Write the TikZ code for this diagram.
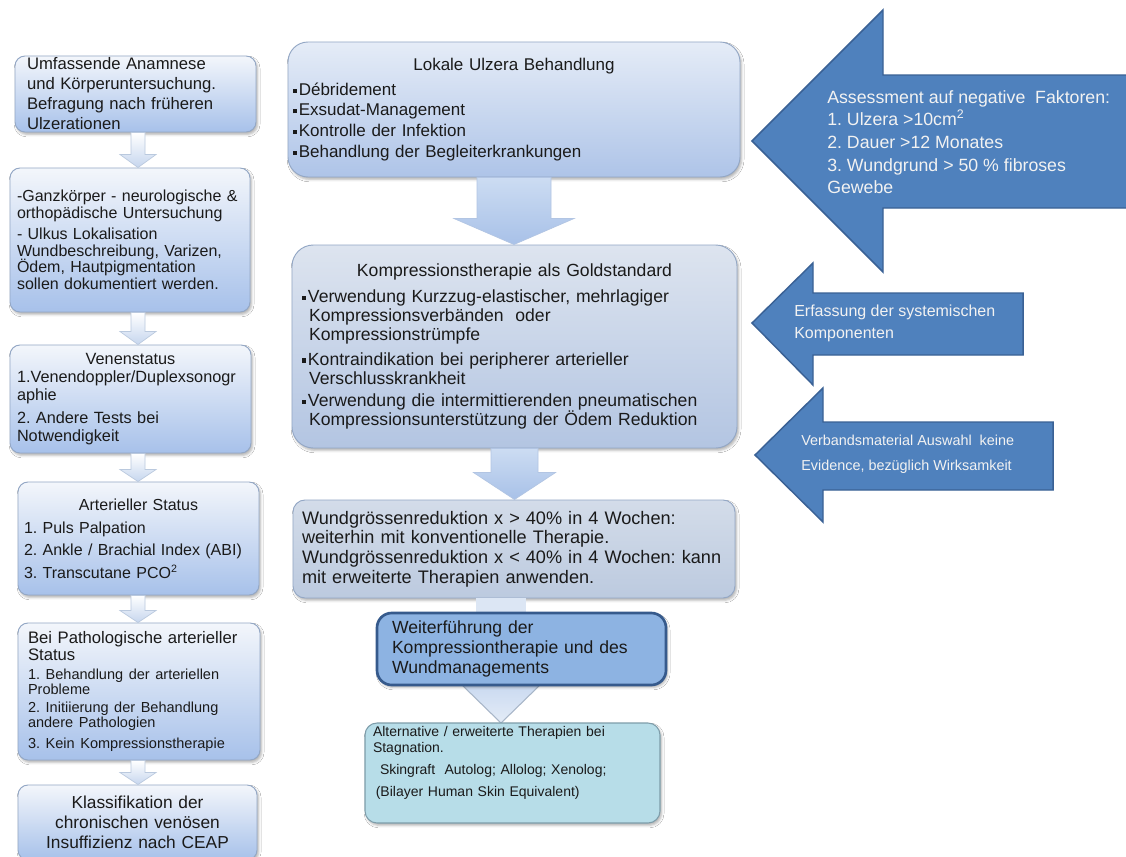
\documentclass[tikz,border=0pt]{standalone}
\usepackage{fontspec}
\setmainfont{Liberation Sans}
\usetikzlibrary{calc,shadows.blur}
\setlength{\parindent}{0pt}
\frenchspacing
\definecolor{txt}{HTML}{1A1A1A}
\definecolor{lboxtop}{HTML}{F3F6FB}
\definecolor{lboxbot}{HTML}{A7C1EA}
\definecolor{lboxline}{HTML}{93A7C5}
\definecolor{mtop}{HTML}{E5ECF7}
\definecolor{mbot}{HTML}{AEC4E8}
\definecolor{gtop}{HTML}{DDE4EF}
\definecolor{gbot}{HTML}{B3C5E2}
\definecolor{gthreetop}{HTML}{D3DCE9}
\definecolor{gthreebot}{HTML}{BCCADF}
\definecolor{dkfill}{HTML}{8DB3E2}
\definecolor{dkline}{HTML}{365A8C}
\definecolor{tealfill}{HTML}{B7DDE8}
\definecolor{tealline}{HTML}{7E9DAA}
\definecolor{arrfill}{HTML}{4F81BD}
\definecolor{arrline}{HTML}{3A6195}
\definecolor{arrtxt}{HTML}{F2F2F2}
\definecolor{dtop}{HTML}{CCDCF2}
\definecolor{dbot}{HTML}{A8C1E8}
\definecolor{dline}{HTML}{B2C5E3}
\definecolor{stop}{HTML}{FFFFFF}
\definecolor{sbot}{HTML}{C6D6EE}
\definecolor{sline}{HTML}{BAC9DE}
\definecolor{cbar}{HTML}{DCE6F4}
\definecolor{ttop}{HTML}{C9D9F0}
\definecolor{tbot}{HTML}{E4ECF7}
\definecolor{tline}{HTML}{A8B6C8}
\newcommand\mybul{\raisebox{0.28ex}{\rule{0.24em}{0.24em}}\hspace{0.1em}}
% #1 start, #2 tip, #3 shaft half width, #4 head half width, #5 head length, #6 style
\newcommand\downblock[6]{%
  \path[#6] ($(#1)+(-#3,0)$) -- ($(#1)+(#3,0)$) -- ($(#2)+(#3,-#5)$) -- ($(#2)+(#4,-#5)$) -- (#2) -- ($(#2)+(-#4,-#5)$) -- ($(#2)+(-#3,-#5)$) -- cycle;}
\begin{document}
\begin{tikzpicture}[x=0.75pt,y=-0.75pt,
 every node/.style={text=txt},
 sh/.style={blur shadow={shadow xshift=1.2pt,shadow yshift=-1.8pt,shadow blur radius=1.8pt,shadow opacity=30}},
 lbox/.style={draw=lboxline,line width=0.7pt,rounded corners=7.5pt,top color=lboxtop,bottom color=lboxbot,inner sep=0pt,align=left,sh},
 mboxa/.style={draw=lboxline,line width=0.7pt,rounded corners=15pt,top color=mtop,bottom color=mbot,inner sep=0pt,align=left,sh},
 mboxb/.style={draw=lboxline,line width=0.7pt,rounded corners=16pt,top color=gtop,bottom color=gbot,inner sep=0pt,align=left,sh},
 mboxc/.style={draw=lboxline,line width=0.7pt,rounded corners=9pt,top color=gthreetop,bottom color=gthreebot,inner sep=0pt,align=left,sh},
 darkbox/.style={draw=dkline,line width=2pt,rounded corners=11pt,fill=dkfill,inner sep=0pt,align=left,sh},
 tealbox/.style={draw=tealline,line width=0.8pt,rounded corners=9pt,fill=tealfill,inner sep=0pt,align=left,sh},
 bigarrow/.style={fill=arrfill,draw=arrline,line width=1.1pt,line join=miter},
 arrtext/.style={text=arrtxt,inner sep=0pt,align=left,anchor=west},
 midarr/.style={top color=dtop,bottom color=dbot,draw=dline,line width=0.5pt},
 smallarr/.style={top color=stop,bottom color=sbot,draw=sline,line width=0.5pt},
 connbar/.style={fill=cbar,draw=none},
 tri/.style={top color=ttop,bottom color=tbot,draw=tline,line width=0.8pt,line join=round}
]
\useasboundingbox (0,0) rectangle (1126,856);
\clip (0,0) rectangle (1126,856);
\fill[white] (0,0) rectangle (1126,856);

% ---------- left column boxes ----------
\node[lbox,minimum width=180.75pt,minimum height=57pt,text width=162.75pt,
      font=\fontsize{12.5}{15}\selectfont] (b1) at (135.5,94)
 {Umfassende Anamnese\\und Körperuntersuchung.\\Befragung nach früheren\\Ulzerationen};

\node[lbox,minimum width=180pt,minimum height=108pt,text width=169.5pt,
      font=\fontsize{12}{12.6}\selectfont] (b2) at (130,240)
 {-Ganzkörper - neurologische \&\\orthopädische Untersuchung\\[3pt]- Ulkus Lokalisation\\Wundbeschreibung, Varizen,\\Ödem, Hautpigmentation\\sollen dokumentiert werden.};

\node[lbox,minimum width=180.75pt,minimum height=81pt,text width=170.25pt,
      font=\fontsize{12.2}{13.4}\selectfont] (b3) at (130.5,399)
 {\makebox[\linewidth]{Venenstatus}\\1.Venendoppler/Duplexsonogr\\aphie\\[4pt]2. Andere Tests bei\\Notwendigkeit};

\node[lbox,minimum width=180.75pt,minimum height=84.75pt,text width=171.75pt,
      font=\fontsize{12}{13.6}\selectfont] (b4) at (138.5,538.5)
 {\makebox[\linewidth]{Arterieller Status}\\[4pt]1. Puls Palpation\\[3pt]2. Ankle / Brachial Index (ABI)\\[3pt]3. Transcutane PCO\textsuperscript{2}};

\node[lbox,minimum width=181.5pt,minimum height=102.75pt,text width=166.5pt,
      font=\fontsize{12.5}{13.2}\selectfont] (b5) at (139,691.5)
 {Bei Pathologische arterieller\\Status\par\vspace{3pt}\fontsize{10.9}{11}\selectfont
  1. Behandlung der arteriellen\\Probleme\\[3pt]2. Initiierung der Behandlung\\andere Pathologien\\[3pt]3. Kein Kompressionstherapie};

\node[lbox,align=center,minimum width=179.25pt,minimum height=56.25pt,text width=170pt,
      font=\fontsize{13}{15}\selectfont] (b6) at (137.5,822.5)
 {Klassifikation der\\chronischen venösen\\Insuffizienz nach CEAP};

% ---------- small arrows left column ----------
\coordinate (colx) at (138,0);
\coordinate (s1) at (colx |- b1.south); \coordinate (e1) at (colx |- b2.north);
\coordinate (s2) at (colx |- b2.south); \coordinate (e2) at (colx |- b3.north);
\coordinate (s3) at (colx |- b3.south); \coordinate (e3) at (colx |- b4.north);
\coordinate (s4) at (colx |- b4.south); \coordinate (e4) at (colx |- b5.north);
\coordinate (s5) at (colx |- b5.south); \coordinate (e5) at (colx |- b6.north);
\downblock{s1}{e1}{7}{18}{13}{smallarr}
\downblock{s2}{e2}{7}{18}{13}{smallarr}
\downblock{s3}{e3}{7}{18}{12}{smallarr}
\downblock{s4}{e4}{7}{18}{12}{smallarr}
\downblock{s5}{e5}{7}{18}{12}{smallarr}

% ---------- middle column ----------
\node[mboxa,minimum width=339pt,minimum height=101.25pt,text width=331.5pt,
      font=\fontsize{12.75}{15.5}\selectfont] (m1) at (514,109.5)
 {\makebox[\linewidth]{Lokale Ulzera Behandlung}\\[3pt]\mybul Débridement\\\mybul Exsudat-Management\\\mybul Kontrolle der Infektion\\\mybul Behandlung der Begleiterkrankungen};

\node[mboxb,minimum width=333.75pt,minimum height=152.25pt,text width=318.75pt,
      font=\fontsize{13.2}{14.4}\selectfont] (m2) at (514.5,346.5)
 {\makebox[\linewidth]{Kompressionstherapie als Goldstandard}\\[5pt]%
  \mybul Verwendung Kurzzug-elastischer, mehrlagiger\\\hspace*{0.4em}Kompressionsverbänden\ \ oder\\\hspace*{0.4em}Kompressionstrümpfe\\[4pt]%
  \mybul Kontraindikation bei peripherer arterieller\\\hspace*{0.4em}Verschlusskrankheit\\[2pt]%
  \mybul Verwendung die intermittierenden pneumatischen\\\hspace*{0.4em}Kompressionsunterstützung der Ödem Reduktion};

\node[mboxc,minimum width=331.5pt,minimum height=73.5pt,text width=318pt,
      font=\fontsize{13.6}{14.8}\selectfont] (m3) at (514,549)
 {Wundgrössenreduktion x > 40\% in 4 Wochen:\\weiterhin mit konventionelle Therapie.\\Wundgrössenreduktion x < 40\% in 4 Wochen: kann\\mit erweiterte Therapien anwenden.};

% arrows between middle boxes (drawn before the lower boxes)
\coordinate (a1s) at (m1.south); \coordinate (a1e) at (m1.south |- m2.north);
\coordinate (a2s) at (m2.south); \coordinate (a2e) at (m2.south |- m3.north);
\downblock{a1s}{a1e}{37}{60}{26}{midarr}
\downblock{a2s}{a2e}{23.5}{41}{27}{midarr}

\coordinate (lowx) at (501,0);
\coordinate (c1) at (lowx |- m3.south);
\coordinate (c2) at (501,615);
\fill[connbar] ($(c1)+(-25,0)$) rectangle ($(c2)+(25,0)$);
\coordinate (t1) at (501,684);
\coordinate (t2) at (501,723);
\path[tri] ($(t1)+(-40,0)$) -- ($(t1)+(40,0)$) -- (t2) -- cycle;

\node[darkbox,minimum width=216.75pt,minimum height=54pt,text width=194.25pt,
      font=\fontsize{13.2}{15}\selectfont] (m4) at (521.5,649)
 {Weiterführung der\\Kompressiontherapie und des\\Wundmanagements};

\node[tealbox,minimum width=221.25pt,minimum height=75pt,text width=209.25pt,
      font=\fontsize{10.5}{12}\selectfont] (m5) at (512.5,773)
 {Alternative / erweiterte Therapien bei\\Stagnation.\\[4.5pt]\hspace*{0.5em}Skingraft\ \ Autolog; Allolog; Xenolog;\\[4.5pt]\hspace*{0.2em}(Bilayer Human Skin Equivalent)\\[6pt]\mbox{}};

% ---------- right block arrows ----------
\path[bigarrow] (752,141) -- (883,10) -- (883,75) -- (1135,75) -- (1135,208) -- (883,208) -- (883,272) -- cycle;
\path[bigarrow] (752,323) -- (813,263) -- (813,293) -- (1023,293) -- (1023,355) -- (813,355) -- (813,385) -- cycle;
\path[bigarrow] (755,455) -- (823,388) -- (823,422) -- (1053,422) -- (1053,490) -- (823,490) -- (823,522) -- cycle;

\node[arrtext,font=\fontsize{13.3}{17}\selectfont] (r1) at (827,142)
 {Assessment auf negative\ \ Faktoren:\\1. Ulzera >10cm\textsuperscript{2}\\2. Dauer >12 Monates\\3. Wundgrund > 50 \% fibroses\\Gewebe};
\node[arrtext,font=\fontsize{12}{17}\selectfont] (r2) at (794,323.5)
 {Erfassung der systemischen\\Komponenten};
\node[arrtext,font=\fontsize{10.8}{19}\selectfont] (r3) at (801,454.5)
 {Verbandsmaterial Auswahl\ \ keine\\Evidence, bezüglich Wirksamkeit};
\end{tikzpicture}
\end{document}
